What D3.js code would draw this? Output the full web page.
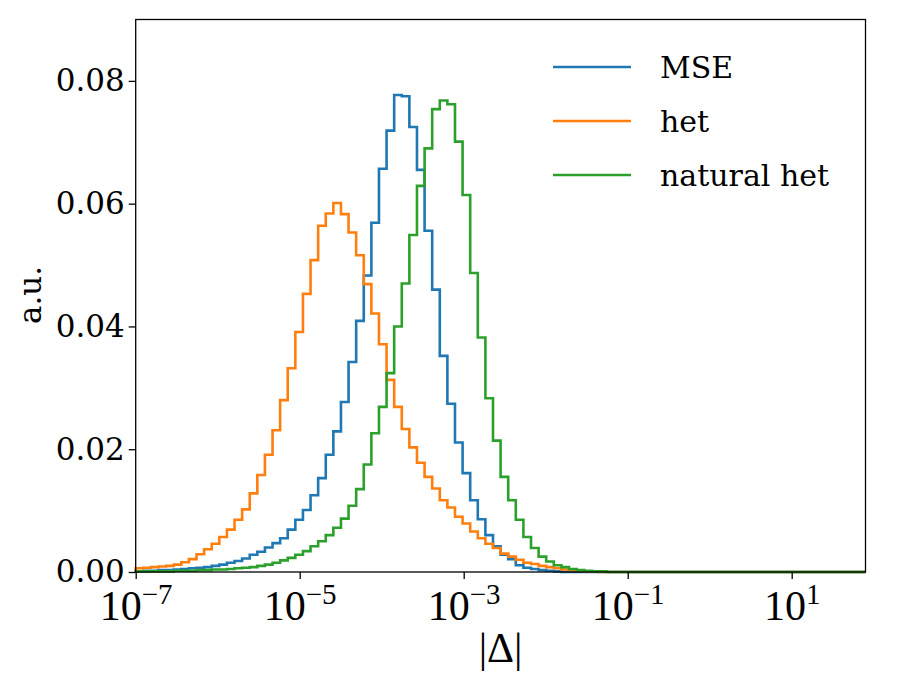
<!DOCTYPE html>
<html>
<head>
<meta charset="utf-8">
<script src="https://cdn.jsdelivr.net/npm/d3@7"></script>
<style>
  body { margin: 0; background: #fff; }
  .tick text { font-family: "DejaVu Serif", serif; }
</style>
</head>
<body>
<script>
// log-spaced bins, 96 of them from 1e-7 up to 10^1.9
const logMin = -7;
const logMax = 1.9;
const binCount = 96;

const seriesNames = ['MSE', 'het', 'natural het'];
const seriesColors = ['#1f77b4', '#ff7f0e', '#2ca02c'];

const mse = [
  0.0001, 0.0002, 0.0002, 0.0003, 0.0003, 0.0004, 0.0005, 0.0006, 0.0007, 0.0008,
  0.0010, 0.0012, 0.0015, 0.0018, 0.0022, 0.0028, 0.0033, 0.0040, 0.0047, 0.0055,
  0.0069, 0.0085, 0.0101, 0.0125, 0.0153, 0.0191, 0.0229, 0.0277, 0.0342, 0.0409,
  0.0483, 0.0569, 0.0657, 0.0719, 0.0777, 0.0775, 0.0725, 0.0655, 0.0556, 0.0460,
  0.0352, 0.0274, 0.0211, 0.0161, 0.0117, 0.0086, 0.0060, 0.0042, 0.0028, 0.0021,
  0.0011, 0.0007, 0.0005, 0.0003, 0.0002, 0.0001, 0, 0, 0, 0,
  0, 0, 0, 0, 0, 0, 0, 0, 0, 0,
  0, 0, 0, 0, 0, 0, 0, 0, 0, 0,
  0, 0, 0, 0, 0, 0, 0, 0, 0, 0,
  0, 0, 0, 0, 0, 0
];

const het = [
  0.0006, 0.0007, 0.0008, 0.0009, 0.0010, 0.0012, 0.0016, 0.0021, 0.0029, 0.0037,
  0.0046, 0.0057, 0.0069, 0.0085, 0.0102, 0.0128, 0.0158, 0.0191, 0.0231, 0.0280,
  0.0332, 0.0391, 0.0453, 0.0508, 0.0564, 0.0584, 0.0601, 0.0583, 0.0553, 0.0516,
  0.0469, 0.0421, 0.0371, 0.0313, 0.0269, 0.0233, 0.0203, 0.0178, 0.0155, 0.0136,
  0.0117, 0.0105, 0.0090, 0.0079, 0.0066, 0.0055, 0.0046, 0.0039, 0.0030, 0.0025,
  0.0020, 0.0015, 0.0013, 0.0010, 0.0008, 0.0006, 0.0004, 0.0003, 0.0002, 0.0001,
  0.0001, 0, 0, 0, 0, 0, 0, 0, 0, 0,
  0, 0, 0, 0, 0, 0, 0, 0, 0, 0,
  0, 0, 0, 0, 0, 0, 0, 0, 0, 0,
  0, 0, 0, 0, 0, 0
];

const naturalHet = [
  0.0001, 0.0001, 0.0001, 0.0001, 0.0001, 0.0002, 0.0002, 0.0002, 0.0003, 0.0003,
  0.0004, 0.0004, 0.0005, 0.0006, 0.0007, 0.0008, 0.0010, 0.0012, 0.0015, 0.0019,
  0.0023, 0.0028, 0.0034, 0.0042, 0.0050, 0.0060, 0.0072, 0.0087, 0.0108, 0.0135,
  0.0175, 0.0226, 0.0269, 0.0324, 0.0400, 0.0470, 0.0549, 0.0629, 0.0690, 0.0754,
  0.0768, 0.0762, 0.0701, 0.0614, 0.0487, 0.0382, 0.0283, 0.0214, 0.0155, 0.0117,
  0.0085, 0.0057, 0.0039, 0.0025, 0.0017, 0.0011, 0.0008, 0.0005, 0.0003, 0.0002,
  0.0001, 0.0001, 0, 0, 0, 0, 0, 0, 0, 0,
  0, 0, 0, 0, 0, 0, 0, 0, 0, 0,
  0, 0, 0, 0, 0, 0, 0, 0, 0, 0,
  0, 0, 0, 0, 0, 0
];

const xTicks = [1e-7, 1e-5, 1e-3, 1e-1, 1e1];
const xTickExp = ['\u22127', '\u22125', '\u22123', '\u22121', '1'];
const yTicks = [0, 0.02, 0.04, 0.06, 0.08];


const width = 900;
const height = 675;
const margin = { left: 135.7, right: 34.5, top: 19.5, bottom: 103 };

const svg = d3.select('body')
  .append('svg')
    .attr('width', width)
    .attr('height', height);

const edges = d3.range(binCount + 1).map(i => Math.pow(10, logMin + (logMax - logMin) * i / binCount));

const xScale = d3.scaleLog()
  .domain([edges[0], edges[binCount]])
  .range([margin.left, width - margin.right]);
const yScale = d3.scaleLinear()
  .domain([0, 0.09])
  .range([height - margin.bottom, margin.top]);

// step outline like matplotlib histtype='step'
const stepPoints = values => {
  const pts = [[edges[0], 0]];
  values.forEach((v, i) => {
    pts.push([edges[i], v]);
    pts.push([edges[i + 1], v]);
  });
  pts.push([edges[binCount], 0]);
  return pts;
};

const line = d3.line()
  .x(d => xScale(d[0]))
  .y(d => yScale(d[1]));

const plot = svg.append('g');
[mse, het, naturalHet].forEach((values, i) => {
  plot.append('path')
    .attr('d', line(stepPoints(values)))
    .attr('fill', 'none')
    .attr('stroke', seriesColors[i])
    .attr('stroke-width', 2.6)
    .attr('stroke-linejoin', 'miter');
});

// axes
const xAxis = svg.append('g')
  .attr('transform', `translate(0,${height - margin.bottom})`)
  .call(d3.axisBottom(xScale).tickValues(xTicks).tickFormat('').tickSize(7).tickSizeOuter(0));
xAxis.select('.domain').remove();
xAxis.selectAll('.tick line').attr('stroke-width', 1.3);

xAxis.selectAll('.tick')
  .append('text')
    .attr('y', 48)
    .attr('fill', '#000')
    .attr('text-anchor', 'middle')
    .style('font-family', '"Liberation Serif", serif')
    .style('font-size', '42px')
    .each(function(d, i) {
      const t = d3.select(this);
      t.append('tspan').text('10');
      t.append('tspan')
        .attr('dy', -16)
        .style('font-size', '29px')
        .text(xTickExp[i]);
    });

const yAxis = svg.append('g')
  .attr('transform', `translate(${margin.left},0)`)
  .call(d3.axisLeft(yScale).tickValues(yTicks).tickFormat(d3.format('.2f')).tickSize(7).tickPadding(4));
yAxis.select('.domain').remove();
yAxis.selectAll('.tick line').attr('stroke-width', 1.3);
yAxis.selectAll('.tick text')
  .attr('fill', '#000')
  .style('font-size', '31px');

// frame
svg.append('rect')
  .attr('x', margin.left)
  .attr('y', margin.top)
  .attr('width', width - margin.left - margin.right)
  .attr('height', height - margin.top - margin.bottom)
  .attr('fill', 'none')
  .attr('stroke', '#000')
  .attr('stroke-width', 1.3);

// axis labels
svg.append('text')
  .attr('x', (margin.left + width - margin.right) / 2)
  .attr('y', 662)
  .attr('text-anchor', 'middle')
  .style('font-family', '"Liberation Serif", serif')
  .style('font-size', '42px')
  .text('|\u0394|');

svg.append('text')
  .attr('transform', 'translate(41,295) rotate(-90)')
  .attr('text-anchor', 'middle')
  .style('font-family', '"DejaVu Serif", serif')
  .style('font-size', '31px')
  .text('a.u.');

// legend
const legend = svg.append('g');
seriesNames.forEach((name, i) => {
  const ly = 67 + i * 54;
  legend.append('line')
    .attr('x1', 553).attr('x2', 631)
    .attr('y1', ly).attr('y2', ly)
    .attr('stroke', seriesColors[i])
    .attr('stroke-width', 2.6);
  legend.append('text')
    .attr('x', 660)
    .attr('y', ly + 11)
    .style('font-family', '"DejaVu Serif", serif')
    .style('font-size', '30px')
    .text(name);
});
</script>
</body>
</html>
